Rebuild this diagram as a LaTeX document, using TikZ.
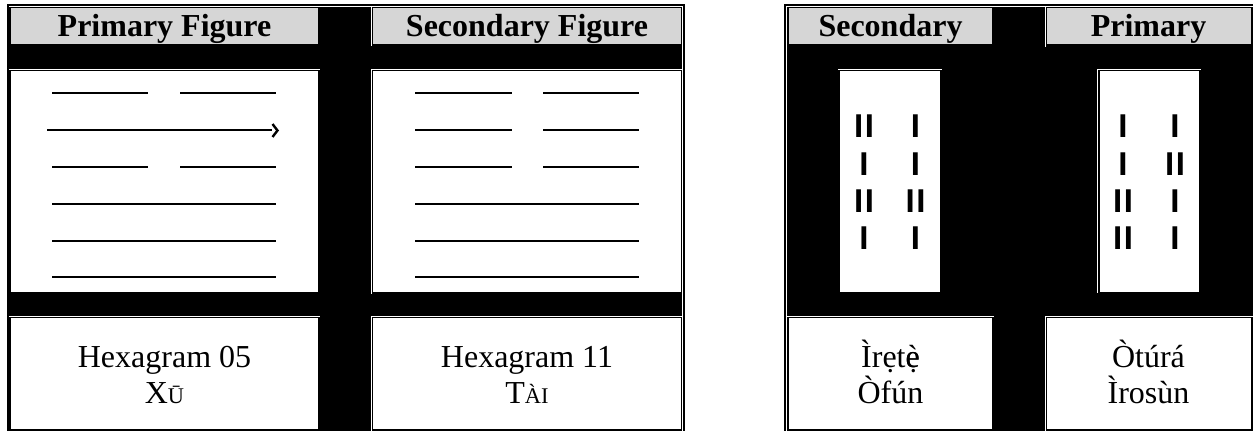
\documentclass[tikz,border=0pt]{standalone}
\usepackage{fontspec}
\setmainfont{Liberation Serif}
\setsansfont{Liberation Sans}
\usetikzlibrary{arrows.meta}
\definecolor{headgray}{HTML}{D6D6D6}
\newcommand{\fakesc}[1]{{\fontsize{22.4}{26}\selectfont #1}}
\newcommand{\edotgrave}{\makebox[0pt][l]{è}ẹ}

\begin{document}
\begin{tikzpicture}[x=1pt,y=-1pt,
    head/.style={anchor=base,inner sep=0pt,font=\fontsize{32}{36}\selectfont\bfseries},
    caption/.style={anchor=base,inner sep=0pt,font=\fontsize{32}{36}\selectfont},
    ifamark/.style={anchor=base,inner sep=0pt,font=\fontsize{33}{36}\selectfont\sffamily\bfseries},
    hexline/.style={line width=1.7pt},
    edge/.style={white,line width=1pt}]
      \useasboundingbox (0,0) rectangle (1253,431);

      % the two black tables
      \fill[black] (7,4) rectangle (685,431);
      \fill[black] (784,4) rectangle (1253,431);

      % cells of the hexagram table
      \fill[headgray] (11,8) rectangle (318,44);
      \fill[headgray] (373,8) rectangle (681,44);
      \fill[white] (11,71) rectangle (318,292);
      \fill[white] (373,71) rectangle (681,292);
      \fill[white] (11,318) rectangle (318,429);
      \fill[white] (373,318) rectangle (681,429);

      % cells of the odu table
      \fill[headgray] (789,8) rectangle (992,44);
      \fill[headgray] (1047,8) rectangle (1251,44);
      \fill[white] (840,71) rectangle (940,292);
      \fill[white] (1100,71) rectangle (1199,292);
      \fill[white] (789,318) rectangle (992,429);
      \fill[white] (1047,318) rectangle (1251,429);

      % light edges
      \draw[edge] (9,6.5) -- (683,6.5);
      \draw[edge] (682.5,6) -- (682.5,431);
      \draw[edge] (9,69.5) -- (320,69.5);
      \draw[edge] (371,69.5) -- (683,69.5);
      \draw[edge] (9,316.5) -- (320,316.5);
      \draw[edge] (371,316.5) -- (683,316.5);
      \draw[edge] (371.5,6) -- (371.5,46);
      \draw[edge] (371.5,69) -- (371.5,294);
      \draw[edge] (371.5,316) -- (371.5,431);
      \draw[edge] (786,6.5) -- (1253,6.5);
      \draw[edge] (786.5,6) -- (786.5,431);
      \draw[edge] (1045.5,6) -- (1045.5,47);
      \draw[edge] (1045.5,316) -- (1045.5,431);
      \draw[edge] (786,316.5) -- (994,316.5);
      \draw[edge] (1045,316.5) -- (1253,316.5);
      \draw[edge] (838,69.5) -- (942,69.5);
      \draw[edge] (1097,69.5) -- (1201,69.5);
      \draw[edge] (1097.5,69) -- (1097.5,293);

      % headers
      \node[head] (hdPF) at (164.5,36) {Primary Figure};
      \node[head] (hdSF) at (527,36) {Secondary Figure};
      \node[head] (hdS) at (890.5,36) {Secondary};
      \node[head] (hdP) at (1148.5,36) {Primary};

      % hexagram 05, top line first
      \draw[hexline] (52,93) -- (148,93);
      \draw[hexline] (180,93) -- (276,93);
      \draw[hexline] (47,130) -- (272,130);
      \draw[line width=2.4pt] (272.5,124) -- (277.5,130.5) -- (272.5,137);
      \draw[hexline] (52,167) -- (148,167);
      \draw[hexline] (180,167) -- (276,167);
      \draw[hexline] (52,204) -- (276,204);
      \draw[hexline] (52,241) -- (276,241);
      \draw[hexline] (52,277) -- (276,277);

      % hexagram 11
      \draw[hexline] (415,93) -- (512,93);
      \draw[hexline] (543,93) -- (639,93);
      \draw[hexline] (415,130) -- (512,130);
      \draw[hexline] (543,130) -- (639,130);
      \draw[hexline] (415,167) -- (512,167);
      \draw[hexline] (543,167) -- (639,167);
      \draw[hexline] (415,204) -- (639,204);
      \draw[hexline] (415,241) -- (639,241);
      \draw[hexline] (415,277) -- (639,277);

      % odu marks, secondary
      \node[ifamark] (sec1l) at (864,137) {I\kern1.6pt I};
      \node[ifamark] (sec1r) at (915.5,137) {I};
      \node[ifamark] (sec2l) at (864,175) {I};
      \node[ifamark] (sec2r) at (915.5,175) {I};
      \node[ifamark] (sec3l) at (864,212) {I\kern1.6pt I};
      \node[ifamark] (sec3r) at (915.5,212) {I\kern1.6pt I};
      \node[ifamark] (sec4l) at (864,249) {I};
      \node[ifamark] (sec4r) at (915.5,249) {I};

      % odu marks, primary
      \node[ifamark] (pri1l) at (1123,137) {I};
      \node[ifamark] (pri1r) at (1175,137) {I};
      \node[ifamark] (pri2l) at (1123,175) {I};
      \node[ifamark] (pri2r) at (1175,175) {I\kern1.6pt I};
      \node[ifamark] (pri3l) at (1123,212) {I\kern1.6pt I};
      \node[ifamark] (pri3r) at (1175,212) {I};
      \node[ifamark] (pri4l) at (1123,249) {I\kern1.6pt I};
      \node[ifamark] (pri4r) at (1175,249) {I};

      % names
      \node[caption] (num05) at (164.5,367) {Hexagram 05};
      \node[caption] (nmXu) at (164.5,403) {X\fakesc{Ū}};
      \node[caption] (num11) at (527,367) {Hexagram 11};
      \node[caption] (nmTai) at (527,403) {T\fakesc{ÀI}};
      \node[caption] (odu1a) at (890.5,367) {Ìrẹt\edotgrave};
      \node[caption] (odu1b) at (890.5,403) {Òfún};
      \node[caption] (odu2a) at (1148.5,367) {Òtúrá};
      \node[caption] (odu2b) at (1148.5,403) {Ìrosùn};
  \end{tikzpicture}
\end{document}
